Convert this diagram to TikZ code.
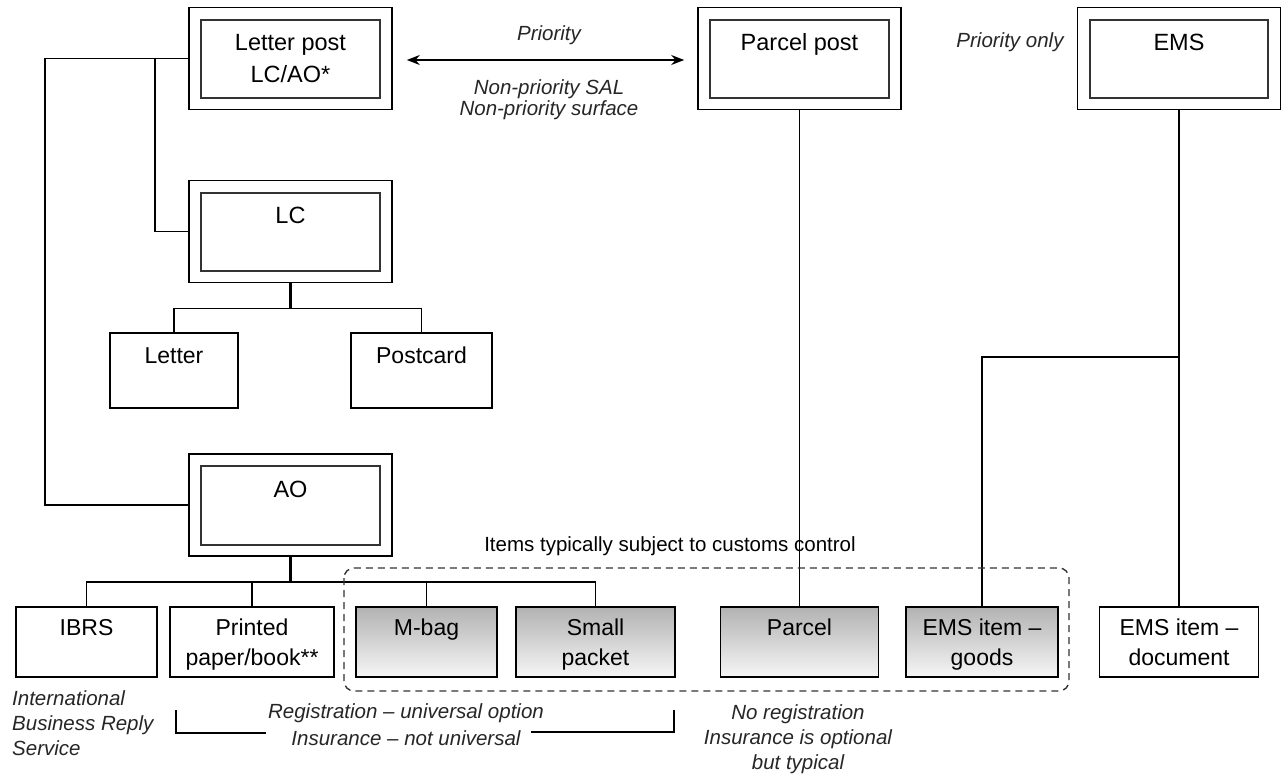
\documentclass[tikz,border=0pt]{standalone}
\usepackage{fontspec}
\setmainfont{Liberation Sans}
\usetikzlibrary{arrows.meta}
\definecolor{shadetop}{HTML}{B2B2B2}
\definecolor{shadebot}{HTML}{F6F6F6}
\newcommand\tstrut{\rule[-7.8pt]{0pt}{32pt}}
\newcommand\bstrut{\rule[-6.8pt]{0pt}{30pt}}
\begin{document}
\begin{tikzpicture}[x=1pt,y=-1pt,
    topbox/.style={draw,line width=1.6pt,minimum width=203pt,minimum height=102pt,
      align=center,inner sep=0pt,font=\fontsize{23.5}{32}\selectfont},
    itembox/.style={draw,line width=1.6pt,minimum height=70pt,
      align=center,inner sep=0pt,font=\fontsize{23}{30}\selectfont},
    shadebox/.style={itembox,top color=shadetop,bottom color=shadebot},
    innerframe/.style={draw=black!80,line width=2.2pt},
    note/.style={inner sep=0pt,text=black!85,font=\fontsize{20.5}{25}\selectfont\itshape},
    link/.style={line width=1.6pt},
    stem/.style={line width=2.6pt}]
  \useasboundingbox (0,0) rectangle (1288,776);

  \node[topbox] (lp) at (290.5,58.5) {\tstrut Letter post\\\tstrut LC/AO*};
  \node[topbox] (pp) at (799.5,58.5) {\tstrut Parcel post\\\tstrut};
  \node[topbox] (ems) at (1179,58.5) {\tstrut EMS\\\tstrut};
  \node[topbox] (lc) at (290.5,231.5) {\tstrut LC\\\tstrut};
  \node[topbox] (ao) at (290.5,505) {\tstrut AO\\\tstrut};
  \foreach \n in {lp,pp,ems,lc,ao}
    \draw[innerframe] ([xshift=13pt,yshift=-13pt]\n.north west) rectangle ([xshift=-13pt,yshift=12pt]\n.south east);

  \node[itembox,minimum width=128pt,minimum height=75pt] (letter) at (174,370.5) {\bstrut Letter\\\bstrut};
  \node[itembox,minimum width=141pt,minimum height=75pt] (postcard) at (421.5,370.5) {\bstrut Postcard\\\bstrut};

  \node[itembox,minimum width=141pt] (ibrs) at (86.5,642) {\bstrut IBRS\\\bstrut};
  \node[itembox,minimum width=164pt] (printed) at (252,642) {\bstrut Printed\\\bstrut paper/book**};
  \node[shadebox,minimum width=141pt] (mbag) at (426.5,642) {\bstrut M-bag\\\bstrut};
  \node[shadebox,minimum width=159pt] (smallpk) at (595.5,642) {\bstrut Small\\\bstrut packet};
  \node[shadebox,minimum width=158pt] (parcel) at (799.5,642) {\bstrut Parcel\\\bstrut};
  \node[shadebox,minimum width=152pt] (emsgoods) at (982,642) {\bstrut EMS item --\\\bstrut goods};
  \node[itembox,minimum width=159pt] (emsdoc) at (1179,642) {\bstrut EMS item --\\\bstrut document};

  \draw[{Stealth[length=13pt,width=10pt]}-{Stealth[length=13pt,width=10pt]},link] ([xshift=14pt,yshift=-1.5pt]lp.east) -- ([xshift=-13pt,yshift=-1.5pt]pp.west);
  \node[note] (prio) at (549,35) {Priority};
  \node[note,align=center,font=\fontsize{20.5}{21}\selectfont\itshape] (nonprio) at (549,100) {Non-priority SAL\\Non-priority surface};
  \node[note] (prioonly) at (1010,42) {Priority only};

  \coordinate (trunk) at (45,58.5);
  \coordinate (lcjoin) at (155,58.5);
  \draw[link] (lp.west) -- (trunk) |- (ao.west);
  \draw[link] (lcjoin) |- (lc.west);

  \draw[stem] (lc.south) -- ++(0,25) coordinate (lcfork);
  \draw[link] (letter.north) |- (lcfork) -| (postcard.north);

  \draw[stem] (ao.south) -- ++(0,25) coordinate (aofork);
  \draw[link] (ibrs.north) |- (aofork) -| (smallpk.north);
  \foreach \n in {printed,mbag}
    \draw[link] (\n.north) -- (\n.north |- aofork);

  \draw[link] (pp.south) -- (parcel.north);
  \draw[link] (ems.south) -- (emsdoc.north);
  \coordinate (emsfork) at (1179,357);
  \draw[link] (emsfork) -| (emsgoods.north);

  \draw[black!80,line width=1.4pt,dash pattern=on 7pt off 5pt,rounded corners=10pt] (344,568) rectangle (1069,691);
  \node[inner sep=0pt,font=\fontsize{20.5}{25}\selectfont] (customs) at (670,546) {Items typically subject to customs control};

  \node[note,align=left,anchor=west] (ibrsnote) at (12,723) {International\\Business Reply\\Service};
  \node[note,align=center,font=\fontsize{20.5}{27}\selectfont\itshape] (regnote) at (406,724.5) {Registration -- universal option\\Insurance -- not universal};
  \draw[line width=1.4pt] (176,710) |- (266,733);
  \draw[line width=1.4pt] (531,732) -| (674,710);
  \node[note,align=center] (parcelnote) at (798,739) {No registration\\Insurance is optional\\but typical};
\end{tikzpicture}
\end{document}
